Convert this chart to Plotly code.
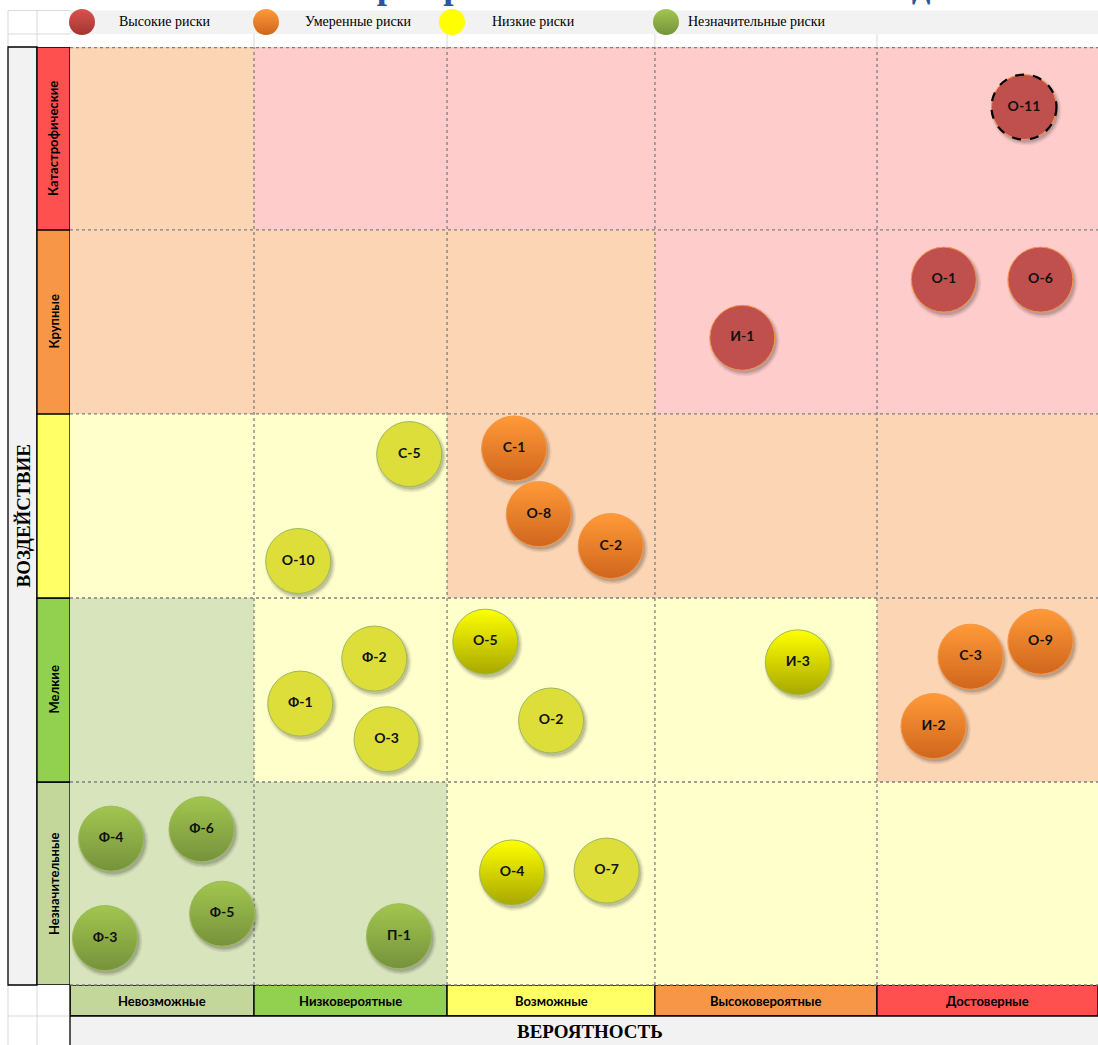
import plotly.graph_objects as go

W, H = 1098, 1045

# ---- categories -----------------------------------------------------------
PROBABILITY = ["Невозможные", "Низковероятные", "Возможные", "Высоковероятные", "Достоверные"]
IMPACT = ["Незначительные", "Мелкие", "", "Крупные", "Катастрофические"]  # bottom -> top

# risk zone of every matrix cell (rows bottom -> top, columns left -> right)
ZONES = [
    ["insig", "insig", "low", "low", "low"],
    ["insig", "low", "low", "low", "mod"],
    ["low", "low", "mod", "mod", "mod"],
    ["mod", "mod", "mod", "high", "high"],
    ["mod", "high", "high", "high", "high"],
]

LEGEND_TEXT = ["Высокие риски", "Умеренные риски", "Низкие риски", "Незначительные риски"]

# ---- risks: code, probability score, impact score -------------------------
HIGH_CODES = ["О-11", "О-1", "О-6", "И-1"]
HIGH_P = [4.64, 4.25, 4.72, 3.27]
HIGH_I = [4.68, 3.76, 3.76, 3.45]

MOD_CODES = ["С-1", "О-8", "С-2", "С-3", "О-9", "И-2"]
MOD_P = [2.16, 2.28, 2.63, 4.38, 4.72, 4.20]
MOD_I = [2.86, 2.51, 2.34, 1.75, 1.83, 1.38]

LOW_CODES = ["С-5", "О-10", "Ф-2", "Ф-1", "О-3", "О-2", "О-7"]
LOW_P = [1.65, 1.11, 1.48, 1.12, 1.54, 2.34, 2.61]
LOW_I = [2.83, 2.26, 1.74, 1.50, 1.31, 1.41, 0.61]

LOW_MARKED_CODES = ["О-5", "И-3", "О-4"]
LOW_MARKED_P = [2.02, 3.54, 2.15]
LOW_MARKED_I = [1.83, 1.72, 0.60]

INSIG_CODES = ["Ф-4", "Ф-6", "Ф-5", "Ф-3", "П-1"]
INSIG_P = [0.20, 0.64, 0.74, 0.17, 1.60]
INSIG_I = [0.78, 0.83, 0.38, 0.25, 0.26]

WATCHED = ["О-11"]  # risks outlined with a dashed ring

# ---- layout geometry ------------------------------------------------------
COL_EDGES = [0, 0.895, 1.834, 2.845, 3.925, 5.0]
ROW_EDGES = [0, 1.082, 2.063, 3.044, 4.025, 5.0]

ZONE_FILL = {"high": "#FFCCCC", "mod": "#FCD5B4", "low": "#FFFFCC", "insig": "#D8E4BC"}
LEVEL_FILL = ["#C4D79B", "#92D050", "#FFFF66", "#F79646", "#FF5050"]

GRID_GREY = "#D9D9D9"
CELL_LINE = "#7F7F7F"
BAND_GREY = "#F2F2F2"
SANS = "Lato"
SERIF = "Liberation Serif"
BUBBLE = 65


def px(x):
    return x / W


def py(y):
    return 1 - y / H


shapes = []
annotations = []


def rect(x0, x1, y0, y1, xref="paper", yref="paper", fill=None, line=None, lw=1, layer="below"):
    shapes.append(dict(type="rect", xref=xref, yref=yref, x0=x0, x1=x1, y0=y0, y1=y1,
                       fillcolor=fill or "rgba(0,0,0,0)",
                       line=dict(color=line or "rgba(0,0,0,0)", width=lw if line else 0),
                       layer=layer))


def seg(x0, x1, y0, y1, xref="paper", yref="paper", color=GRID_GREY, width=1, dash="solid", layer="below"):
    shapes.append(dict(type="line", xref=xref, yref=yref, x0=x0, x1=x1, y0=y0, y1=y1,
                       line=dict(color=color, width=width, dash=dash), layer=layer))


def label(x, y, text, font, xref="paper", yref="paper", angle=0, xanchor="center", yanchor="middle"):
    annotations.append(dict(xref=xref, yref=yref, x=x, y=y, text=text, textangle=angle,
                            xanchor=xanchor, yanchor=yanchor, showarrow=False, font=font))


# legend band and spreadsheet gridlines around it
rect(px(70), 1, py(34), py(10.5), fill=BAND_GREY)
seg(px(8), px(70), py(10.5), py(10.5))
seg(px(8), px(70), py(34), py(34))
for gx in (8, 37):
    seg(px(gx), px(gx), py(10.5), py(47))
    seg(px(gx), px(gx), py(985), 0)
seg(px(8), px(70), py(1016), py(1016))
for e in COL_EDGES[1:-1]:
    seg(e, e, py(47), py(34), xref="x")

# matrix cells
for r, row in enumerate(ZONES):
    for c, zone in enumerate(row):
        rect(COL_EDGES[c], COL_EDGES[c + 1], ROW_EDGES[r], ROW_EDGES[r + 1],
             xref="x", yref="y", fill=ZONE_FILL[zone])
for e in COL_EDGES[1:-1]:
    seg(e, e, 0, 5, xref="x", yref="y", color=CELL_LINE, width=1.3, dash="dot")
for e in ROW_EDGES[:-1]:
    seg(0, 5, e, e, xref="x", yref="y", color=CELL_LINE, width=1.3, dash="dot")
seg(0, 5, 5, 5, xref="x", yref="y", color=CELL_LINE, width=2.5, dash="dot")

# impact axis: grey title band and coloured level cells
rect(px(8), px(37), py(985), py(47), fill=BAND_GREY, line="#000000", lw=1.3)
for r in range(5):
    rect(px(37), px(70), ROW_EDGES[r], ROW_EDGES[r + 1], yref="y",
         fill=LEVEL_FILL[r], line="#000000", lw=1.3)
    if IMPACT[r]:
        label(px(53.5), (ROW_EDGES[r] + ROW_EDGES[r + 1]) / 2, IMPACT[r],
              dict(family=SANS, size=13, color="#000", weight="bold"), yref="y", angle=-90)
label(px(22.5), py(516), "ВОЗДЕЙСТВИЕ",
      dict(family=SERIF, size=19, color="#000", weight="bold"), angle=-90)

# probability axis: coloured level cells and grey title band
for c in range(5):
    rect(COL_EDGES[c], COL_EDGES[c + 1], py(1016), py(985), xref="x",
         fill=LEVEL_FILL[c], line="#000000", lw=1.3)
    label((COL_EDGES[c] + COL_EDGES[c + 1]) / 2, py(1000.5), PROBABILITY[c],
          dict(family=SANS, size=13, color="#000", weight="bold"), xref="x")
seg(0, 5, py(985), py(985), xref="x", color=CELL_LINE, width=1.3, dash="dot")
rect(px(70), 1, 0, py(1016), fill=BAND_GREY)
seg(px(70), 1, py(1016), py(1016), color="#000000", width=1.3)
seg(px(70), px(70), 0, py(985), color="#000000", width=1.3)
label(px(590), py(1031), "ВЕРОЯТНОСТЬ", dict(family=SERIF, size=19, color="#000", weight="bold"))

# title, partly scrolled out above the sheet
label(px(631), py(8), "Карта рисков компании на 2020 год",
      dict(family=SERIF, size=37, color="#2F5597", weight="bold"), yanchor="bottom")

# soft drop shadows under the bubbles
all_p = HIGH_P + MOD_P + LOW_P + LOW_MARKED_P + INSIG_P
all_i = HIGH_I + MOD_I + LOW_I + LOW_MARKED_I + INSIG_I
R = BUBBLE / 2
for xp, yi in zip(all_p, all_i):
    for grow, alpha in ((3, 0.06), (1.5, 0.09), (0, 0.12)):
        shapes.append(dict(type="circle", xref="x", yref="y", xsizemode="pixel", ysizemode="pixel",
                           xanchor=xp, yanchor=yi,
                           x0=2 - R - grow, x1=2 + R + grow, y0=-3 - R - grow, y1=-3 + R + grow,
                           fillcolor=f"rgba(0,0,0,{alpha})", line=dict(width=0), layer="below"))

# dashed ring around watched risks
for code, xp, yi in zip(HIGH_CODES, HIGH_P, HIGH_I):
    if code in WATCHED:
        shapes.append(dict(type="circle", xref="x", yref="y", xsizemode="pixel", ysizemode="pixel",
                           xanchor=xp, yanchor=yi, x0=-R, x1=R, y0=-R, y1=R,
                           line=dict(color="#000000", width=2.2, dash="dash"), layer="above"))

fig = go.Figure()


def bubbles(name, codes, p, i, color, border, grad=None):
    marker = dict(size=BUBBLE, color=color, line=dict(color=border, width=1), opacity=1)
    if grad:
        marker["gradient"] = dict(type="vertical", color=grad)
    fig.add_trace(go.Scatter(
        x=p, y=i, mode="markers+text", text=codes, name=name,
        textposition="middle center",
        textfont=dict(family=SANS, size=14, color="#111", weight="bold"),
        marker=marker, hoverinfo="text", cliponaxis=False, showlegend=False))


bubbles(LEGEND_TEXT[0], HIGH_CODES, HIGH_P, HIGH_I, "#C0504D", "#F79646")
bubbles(LEGEND_TEXT[1], MOD_CODES, MOD_P, MOD_I, "#FF9A38", "#F79646", "#CF661D")
bubbles(LEGEND_TEXT[2], LOW_CODES, LOW_P, LOW_I, "#DEDE3B", "#9BBB59")
bubbles(LEGEND_TEXT[2], LOW_MARKED_CODES, LOW_MARKED_P, LOW_MARKED_I, "#FFFF00", "#9BBB59", "#A8A800")
bubbles(LEGEND_TEXT[3], INSIG_CODES, INSIG_P, INSIG_I, "#A2C64F", "#9BBB59", "#76923C")

# custom legend row on a full-page overlay axis
LEG_X = [82, 266, 452, 666]
LEG_TX = [117, 303, 490, 686]
LEG_TOP = ["#D9534F", "#FF9A38", "#FFFF00", "#A2C64F"]
LEG_BOT = ["#A33431", "#CF661D", "#FFFF00", "#76923C"]
fig.add_trace(go.Scatter(
    x=LEG_X, y=[22] * 4, xaxis="x2", yaxis="y2", mode="markers", showlegend=False,
    hoverinfo="skip",
    marker=dict(size=26, color=LEG_TOP, gradient=dict(type="vertical", color=LEG_BOT),
                line=dict(width=0))))
for tx, text in zip(LEG_TX, LEGEND_TEXT):
    label(px(tx), py(22), text, dict(family=SERIF, size=14, color="#000"), xanchor="left")

fig.update_layout(
    width=W, height=H, margin=dict(l=0, r=0, t=0, b=0),
    paper_bgcolor="#FFFFFF", plot_bgcolor="rgba(0,0,0,0)",
    xaxis=dict(domain=[px(70), 1], range=[0, 5], visible=False, fixedrange=True),
    yaxis=dict(domain=[py(985), py(47)], range=[0, 5], visible=False, fixedrange=True),
    xaxis2=dict(domain=[0, 1], range=[0, W], visible=False, anchor="y2", fixedrange=True),
    yaxis2=dict(domain=[0, 1], range=[H, 0], visible=False, anchor="x2", fixedrange=True),
    shapes=shapes, annotations=annotations, showlegend=False,
)

fig.write_html("out.html", config={"displayModeBar": False})
